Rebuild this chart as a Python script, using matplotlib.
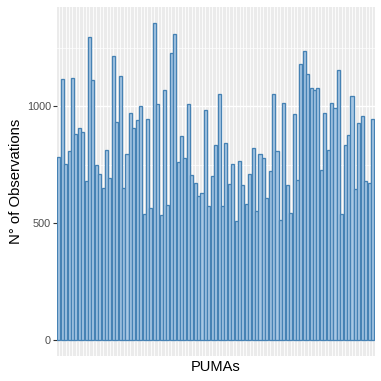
import numpy as np
import matplotlib
matplotlib.use("Agg")
import matplotlib.pyplot as plt

# number of observations per PUMA
counts = [783, 1117, 755, 807, 1120, 880, 907, 890, 679, 1295,
          1110, 748, 709, 652, 811, 695, 1214, 932, 1128, 652,
          794, 972, 908, 942, 1000, 541, 946, 565, 1356, 1008,
          537, 1067, 579, 1228, 1309, 761, 872, 780, 1011, 707,
          672, 615, 629, 982, 573, 703, 836, 1053, 573, 843,
          669, 751, 508, 764, 662, 581, 712, 823, 551, 794,
          778, 609, 723, 1050, 808, 515, 1013, 662, 545, 968,
          683, 1181, 1235, 1139, 1077, 1070, 1079, 726, 972, 814,
          1015, 992, 1156, 538, 833, 878, 1042, 648, 930, 958,
          680, 673, 944]
pumas = [f"P{i + 1:02d}" for i in range(len(counts))]
y_ticks = [0, 500, 1000]

plt.rcParams['font.family'] = ['Liberation Sans', 'DejaVu Sans']

fig = plt.figure(figsize=(3.81, 3.81), dpi=100)
ax = fig.add_axes([0.149, 0.065, 0.834, 0.917])
ax.set_facecolor('#EBEBEB')

x = np.arange(1, len(counts) + 1)
ax.bar(x, counts, width=0.9, color='#a8c8e4', edgecolor='#4682b4',
       linewidth=0.95, zorder=3)

n = len(counts)
ax.set_xlim(0.4, n + 0.6)
top = max(counts)
ax.set_ylim(-0.05 * top, top * 1.05)

# ggplot-like grid
for xi in x:
    ax.axvline(xi, color='white', lw=0.6, zorder=1)
for yv in [250, 750, 1250]:
    ax.axhline(yv, color='white', lw=0.5, zorder=1)
for yv in y_ticks:
    ax.axhline(yv, color='white', lw=1.0, zorder=1)

ax.set_xticks([])
ax.set_yticks(y_ticks)
ax.set_yticklabels([str(v) for v in y_ticks])
ax.tick_params(axis='y', length=2.7, width=0.8, color='#333333',
               labelsize=7.8, labelcolor='#4D4D4D', pad=1.5)
for s in ax.spines.values():
    s.set_visible(False)

ax.set_xlabel('PUMAs', fontsize=10.5, labelpad=3)
ax.set_ylabel('N° of Observations', fontsize=10.7, labelpad=3)

fig.savefig('out.png', dpi=100)
